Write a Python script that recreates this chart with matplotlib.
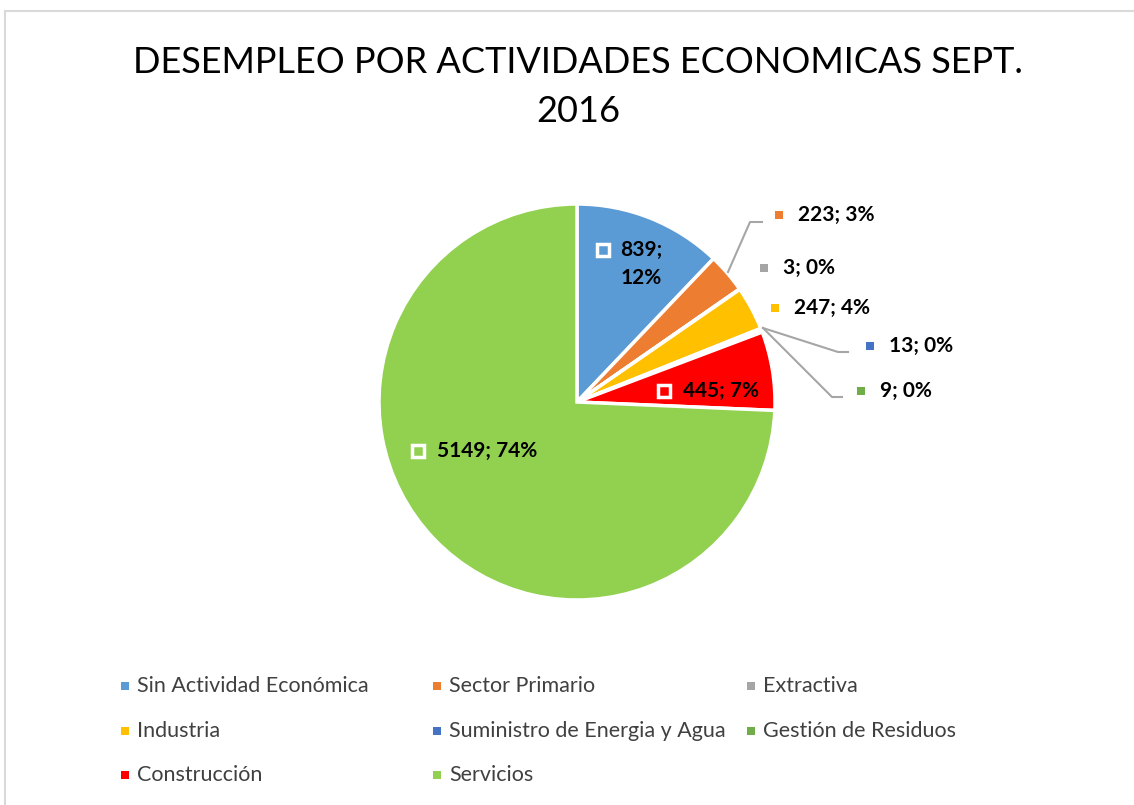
import numpy as np
import matplotlib.pyplot as plt
from matplotlib.patches import Rectangle

# Data
categories = ['Sin Actividad Económica', 'Sector Primario', 'Extractiva',
              'Industria', 'Suministro de Energia y Agua', 'Gestión de Residuos',
              'Construcción', 'Servicios']
values = [839, 223, 3, 247, 13, 9, 445, 5149]
# percentages as printed on the chart labels
pct_labels = [12, 3, 0, 4, 0, 0, 7, 74]
colors = ['#5B9BD5', '#ED7D31', '#A5A5A5', '#FFC000', '#4472C4', '#70AD47',
          '#FF0000', '#92D050']
title = 'DESEMPLEO POR ACTIVIDADES ECONOMICAS SEPT.\n2016'

W, H = 1134, 805
plt.rcParams['font.family'] = ['Lato', 'DejaVu Sans']

fig = plt.figure(figsize=(W / 100, H / 100), dpi=100)
ax = fig.add_axes([0, 0, 1, 1])

def Y(y):
    return H - y

cx, cy, r = 577, 402, 198
ax.pie(values, colors=colors, startangle=90, counterclock=False,
       center=(cx, Y(cy)), radius=r, frame=True,
       wedgeprops=dict(edgecolor='white', linewidth=2.5))
ax.set_xlim(0, W)
ax.set_ylim(0, H)
ax.set_aspect('equal')
ax.axis('off')

# chart border (top and left visible)
ax.plot([5, W], [Y(11), Y(11)], color='#D9D9D9', lw=1.5)
ax.plot([5, 5], [Y(11), 0], color='#D9D9D9', lw=1.5)

ax.text(578, Y(87), title, ha='center', va='center', fontsize=26,
        color='#000000', linespacing=1.6)

# label positions (square marker centre) per slice
label_pos = [(603, 250), (779, 215), (764, 268), (775, 308),
             (870, 346), (861, 391), (664, 391), (418, 451)]
inside = [True, False, False, False, False, False, True, True]

for i, (v, p) in enumerate(zip(values, pct_labels)):
    sx, sy = label_pos[i]
    if i == 0:
        ax.text(sx + 38, Y(sy + 14), f'{v};\n{p}%', ha='center', va='center',
                fontsize=15, fontweight='bold', linespacing=1.55,
                multialignment='center')
    else:
        ax.text(sx + 19, Y(sy), f'{v}; {p}%', ha='left', va='center',
                fontsize=15, fontweight='bold')
    if inside[i]:
        ax.add_patch(Rectangle((sx - 6, Y(sy) - 6), 12, 12, facecolor=colors[i],
                               edgecolor='white', lw=2.5, zorder=5))
    else:
        ax.add_patch(Rectangle((sx - 4, Y(sy) - 4), 8, 8, facecolor=colors[i],
                               edgecolor='none', zorder=5))

# leader lines
lc = '#A6A6A6'
ax.plot([728, 750, 762], [Y(272), Y(222), Y(222)], color=lc, lw=1.5)
ax.plot([763, 838, 848], [Y(328), Y(352), Y(352)], color=lc, lw=1.5)
ax.plot([763, 832, 842], [Y(328), Y(397), Y(397)], color=lc, lw=1.5)

# legend, row-wise in three columns
col_x = [125, 437, 751]
row_y = [686, 731, 775]
for i, (name, c) in enumerate(zip(categories, colors)):
    lx = col_x[i % 3]
    ly = row_y[i // 3]
    ax.add_patch(Rectangle((lx - 4, Y(ly) - 4), 8, 8, facecolor=c, edgecolor='none'))
    ax.text(lx + 12, Y(ly), name, ha='left', va='center', fontsize=15.5,
            color='#404040')

fig.savefig('out.png', dpi=100)
